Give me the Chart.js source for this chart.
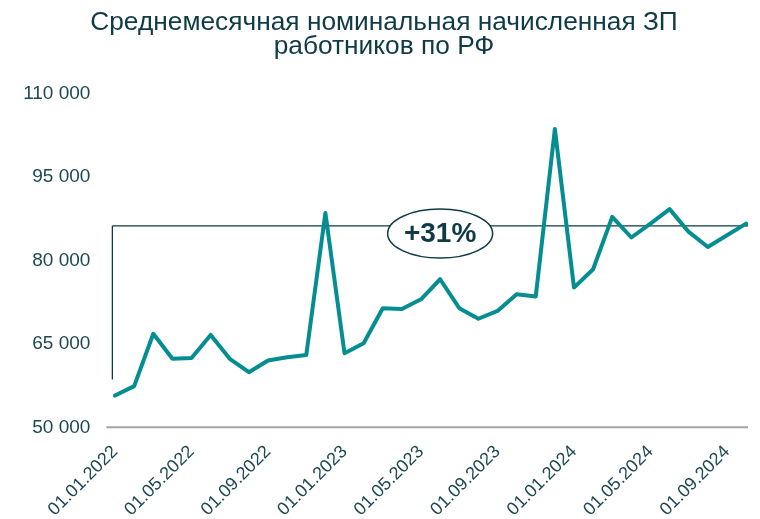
<!DOCTYPE html>
<html>
<head>
<meta charset="utf-8">
<script src="https://cdn.jsdelivr.net/npm/chart.js@4/dist/chart.umd.min.js"></script>
<style>
  html, body { margin: 0; padding: 0; background: #ffffff; }
  #wrap { width: 760px; height: 519px; position: relative; }
</style>
</head>
<body>
<div id="wrap"><canvas id="c" width="760" height="519"></canvas></div>
<script>
// ---- data ----
const titleLines = ['Среднемесячная номинальная начисленная ЗП', 'работников по РФ'];
const categories = [
  '01.01.2022','01.02.2022','01.03.2022','01.04.2022','01.05.2022','01.06.2022',
  '01.07.2022','01.08.2022','01.09.2022','01.10.2022','01.11.2022','01.12.2022',
  '01.01.2023','01.02.2023','01.03.2023','01.04.2023','01.05.2023','01.06.2023',
  '01.07.2023','01.08.2023','01.09.2023','01.10.2023','01.11.2023','01.12.2023',
  '01.01.2024','01.02.2024','01.03.2024','01.04.2024','01.05.2024','01.06.2024',
  '01.07.2024','01.08.2024','01.09.2024','01.10.2024'
];
const salary = [
  55700, 57400, 66800, 62300, 62450, 66600, 62300, 59900, 62000, 62600, 63000, 88500,
  63300, 65100, 71400, 71250, 73000, 76600, 71400, 69500, 70900, 73900, 73500, 103600,
  75100, 78400, 87800, 84100, 86600, 89200, 85100, 82400, 84500, 86600
];
const yTicks = [50000, 65000, 80000, 95000, 110000];
const growthLabel = '+31%';
const refLevel = 86200;      // horizontal bracket line
const refLow = 58600;        // bottom of vertical bracket line
const labelLevel = 84800;    // centre of the ellipse label
const labelIndex = 17;       // x position (category index) of the ellipse label

// ---- styles ----
const FONT = '"Liberation Sans", Arial, sans-serif';
const LINE_COLOR = '#058e92';
const DARK = '#0f3a46';
const TICK_COLOR = '#1d4853';
const PAD_LEFT = 20;

const fmt = v => String(v).replace(/\B(?=(\d{3})+(?!\d))/g, ' ');

const annotationPlugin = {
  id: 'bracket',
  beforeDatasetsDraw(chart) {
    const {ctx, scales: {x, y}} = chart;
    ctx.save();
    ctx.strokeStyle = DARK;
    ctx.lineWidth = 1.3;
    const yRef = y.getPixelForValue(refLevel);
    const xv = x.getPixelForValue(-0.14);
    ctx.beginPath();
    ctx.moveTo(xv, y.getPixelForValue(refLow));
    ctx.lineTo(xv, yRef);
    ctx.moveTo(xv, yRef);
    ctx.lineTo(x.getPixelForValue(33.1), yRef);
    ctx.stroke();
    // base axis line
    ctx.strokeStyle = '#a3a3a3';
    ctx.lineWidth = 2;
    const yb = y.getPixelForValue(50000);
    ctx.beginPath();
    ctx.moveTo(chart.chartArea.left - 1, yb);
    ctx.lineTo(chart.chartArea.right, yb);
    ctx.stroke();
    ctx.restore();
  },
  afterDatasetsDraw(chart) {
    const {ctx, scales: {x, y}} = chart;
    const cx = x.getPixelForValue(labelIndex);
    const cy = y.getPixelForValue(labelLevel);
    ctx.save();
    ctx.beginPath();
    ctx.ellipse(cx, cy, 52.5, 24.5, 0, 0, Math.PI * 2);
    ctx.fillStyle = '#ffffff';
    ctx.fill();
    ctx.strokeStyle = DARK;
    ctx.lineWidth = 1.5;
    ctx.stroke();
    ctx.fillStyle = DARK;
    ctx.font = 'bold 28px ' + FONT;
    ctx.textAlign = 'center';
    ctx.textBaseline = 'middle';
    ctx.fillText(growthLabel, cx, cy + 1);
    ctx.restore();
  }
};

new Chart(document.getElementById('c'), {
  type: 'line',
  data: {
    labels: categories,
    datasets: [{
      data: salary.map((v, i) => ({x: i, y: v})),
      borderColor: LINE_COLOR,
      borderWidth: 4,
      pointRadius: 0,
      tension: 0,
      borderJoinStyle: 'round',
      borderCapStyle: 'round',
      fill: false
    }]
  },
  options: {
    responsive: false,
    animation: false,
    events: [],
    layout: { padding: { left: PAD_LEFT, right: 12, top: 0, bottom: 0 } },
    plugins: {
      legend: { display: false },
      tooltip: { enabled: false },
      title: {
        display: true,
        text: titleLines,
        color: DARK,
        font: { family: FONT, size: 26.3, weight: 'normal', lineHeight: 0.9 },
        padding: { top: 10.8, bottom: 35.2 }
      }
    },
    scales: {
      x: {
        type: 'linear',
        min: -0.4,
        max: 33.1,
        grid: { display: false, drawTicks: false },
        border: { display: false },
        afterFit(s) { s.height = 91.7; },
        ticks: {
          stepSize: 4,
          includeBounds: false,
          autoSkip: false,
          minRotation: 45,
          maxRotation: 45,
          padding: 14,
          color: TICK_COLOR,
          font: { family: FONT, size: 18 },
          callback: v => (Number.isInteger(v) && v % 4 === 0 && categories[v]) ? categories[v] : ''
        }
      },
      y: {
        min: 50000,
        max: 110000,
        grid: { display: false, drawTicks: false },
        border: { display: false },
        afterFit(s) { s.width = 107.4 - PAD_LEFT; },
        afterBuildTicks(s) { s.ticks = yTicks.map(v => ({value: v})); },
        ticks: {
          padding: 17,
          color: TICK_COLOR,
          font: { family: FONT, size: 19 },
          callback: v => fmt(v)
        }
      }
    }
  },
  plugins: [annotationPlugin]
});
</script>
</body>
</html>
